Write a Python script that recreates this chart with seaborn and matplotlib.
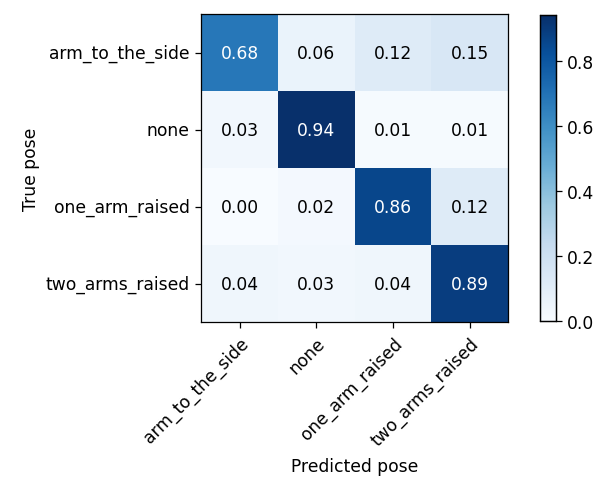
import numpy as np
import pandas as pd
import matplotlib
matplotlib.use("Agg")
import matplotlib.pyplot as plt
import seaborn as sns

classes = ["arm_to_the_side", "none", "one_arm_raised", "two_arms_raised"]
row_arm_to_the_side = [0.68, 0.06, 0.12, 0.15]
row_none = [0.03, 0.94, 0.01, 0.01]
row_one_arm_raised = [0.00, 0.02, 0.86, 0.12]
row_two_arms_raised = [0.04, 0.03, 0.04, 0.89]
cbar_ticks = [0.0, 0.2, 0.4, 0.6, 0.8]

cm = pd.DataFrame(
    [row_arm_to_the_side, row_none, row_one_arm_raised, row_two_arms_raised],
    index=classes, columns=classes,
)

sns.set_style("white")
plt.rcParams["font.family"] = ["DejaVu Sans"]
plt.rcParams.update({
    "text.color": "black",
    "axes.labelcolor": "black",
    "xtick.color": "black",
    "ytick.color": "black",
})
FS = 12.3

fig = plt.figure(figsize=(5.99, 4.85), dpi=100)
ax = fig.add_axes([0.336, 0.334, 0.512, 0.635])
cax = fig.add_axes([0.9015, 0.336, 0.027, 0.63])

sns.heatmap(
    cm, ax=ax, cbar_ax=cax, cmap="Blues", vmin=0.0, vmax=cm.values.max(),
    annot=True, fmt=".2f", annot_kws={"fontsize": FS},
    cbar_kws={"ticks": cbar_ticks},
)

thresh = cm.values.max() / 2.0
for txt, val in zip(ax.texts, cm.values.ravel()):
    txt.set_color("white" if val > thresh else "black")

for a in (ax, cax):
    for spine in a.spines.values():
        spine.set_visible(True)
        spine.set_color("black")
        spine.set_linewidth(0.9)

ax.tick_params(axis="both", which="major", length=4.5, width=0.9, bottom=True, left=True,
               labelsize=FS, pad=4, colors="black")
ax.set_xticklabels(classes, rotation=45, ha="right", rotation_mode="anchor")
ax.set_yticklabels(classes, rotation=0)
ax.set_xlabel("Predicted pose", fontsize=FS, labelpad=6, color="black")
ax.set_ylabel("True pose", fontsize=FS, color="black")
cax.tick_params(axis="y", length=4.5, width=0.9, right=True, labelsize=FS, colors="black")
cax.set_yticklabels([f"{t:.1f}" for t in cbar_ticks])

fig.savefig("out.png", dpi=100)
